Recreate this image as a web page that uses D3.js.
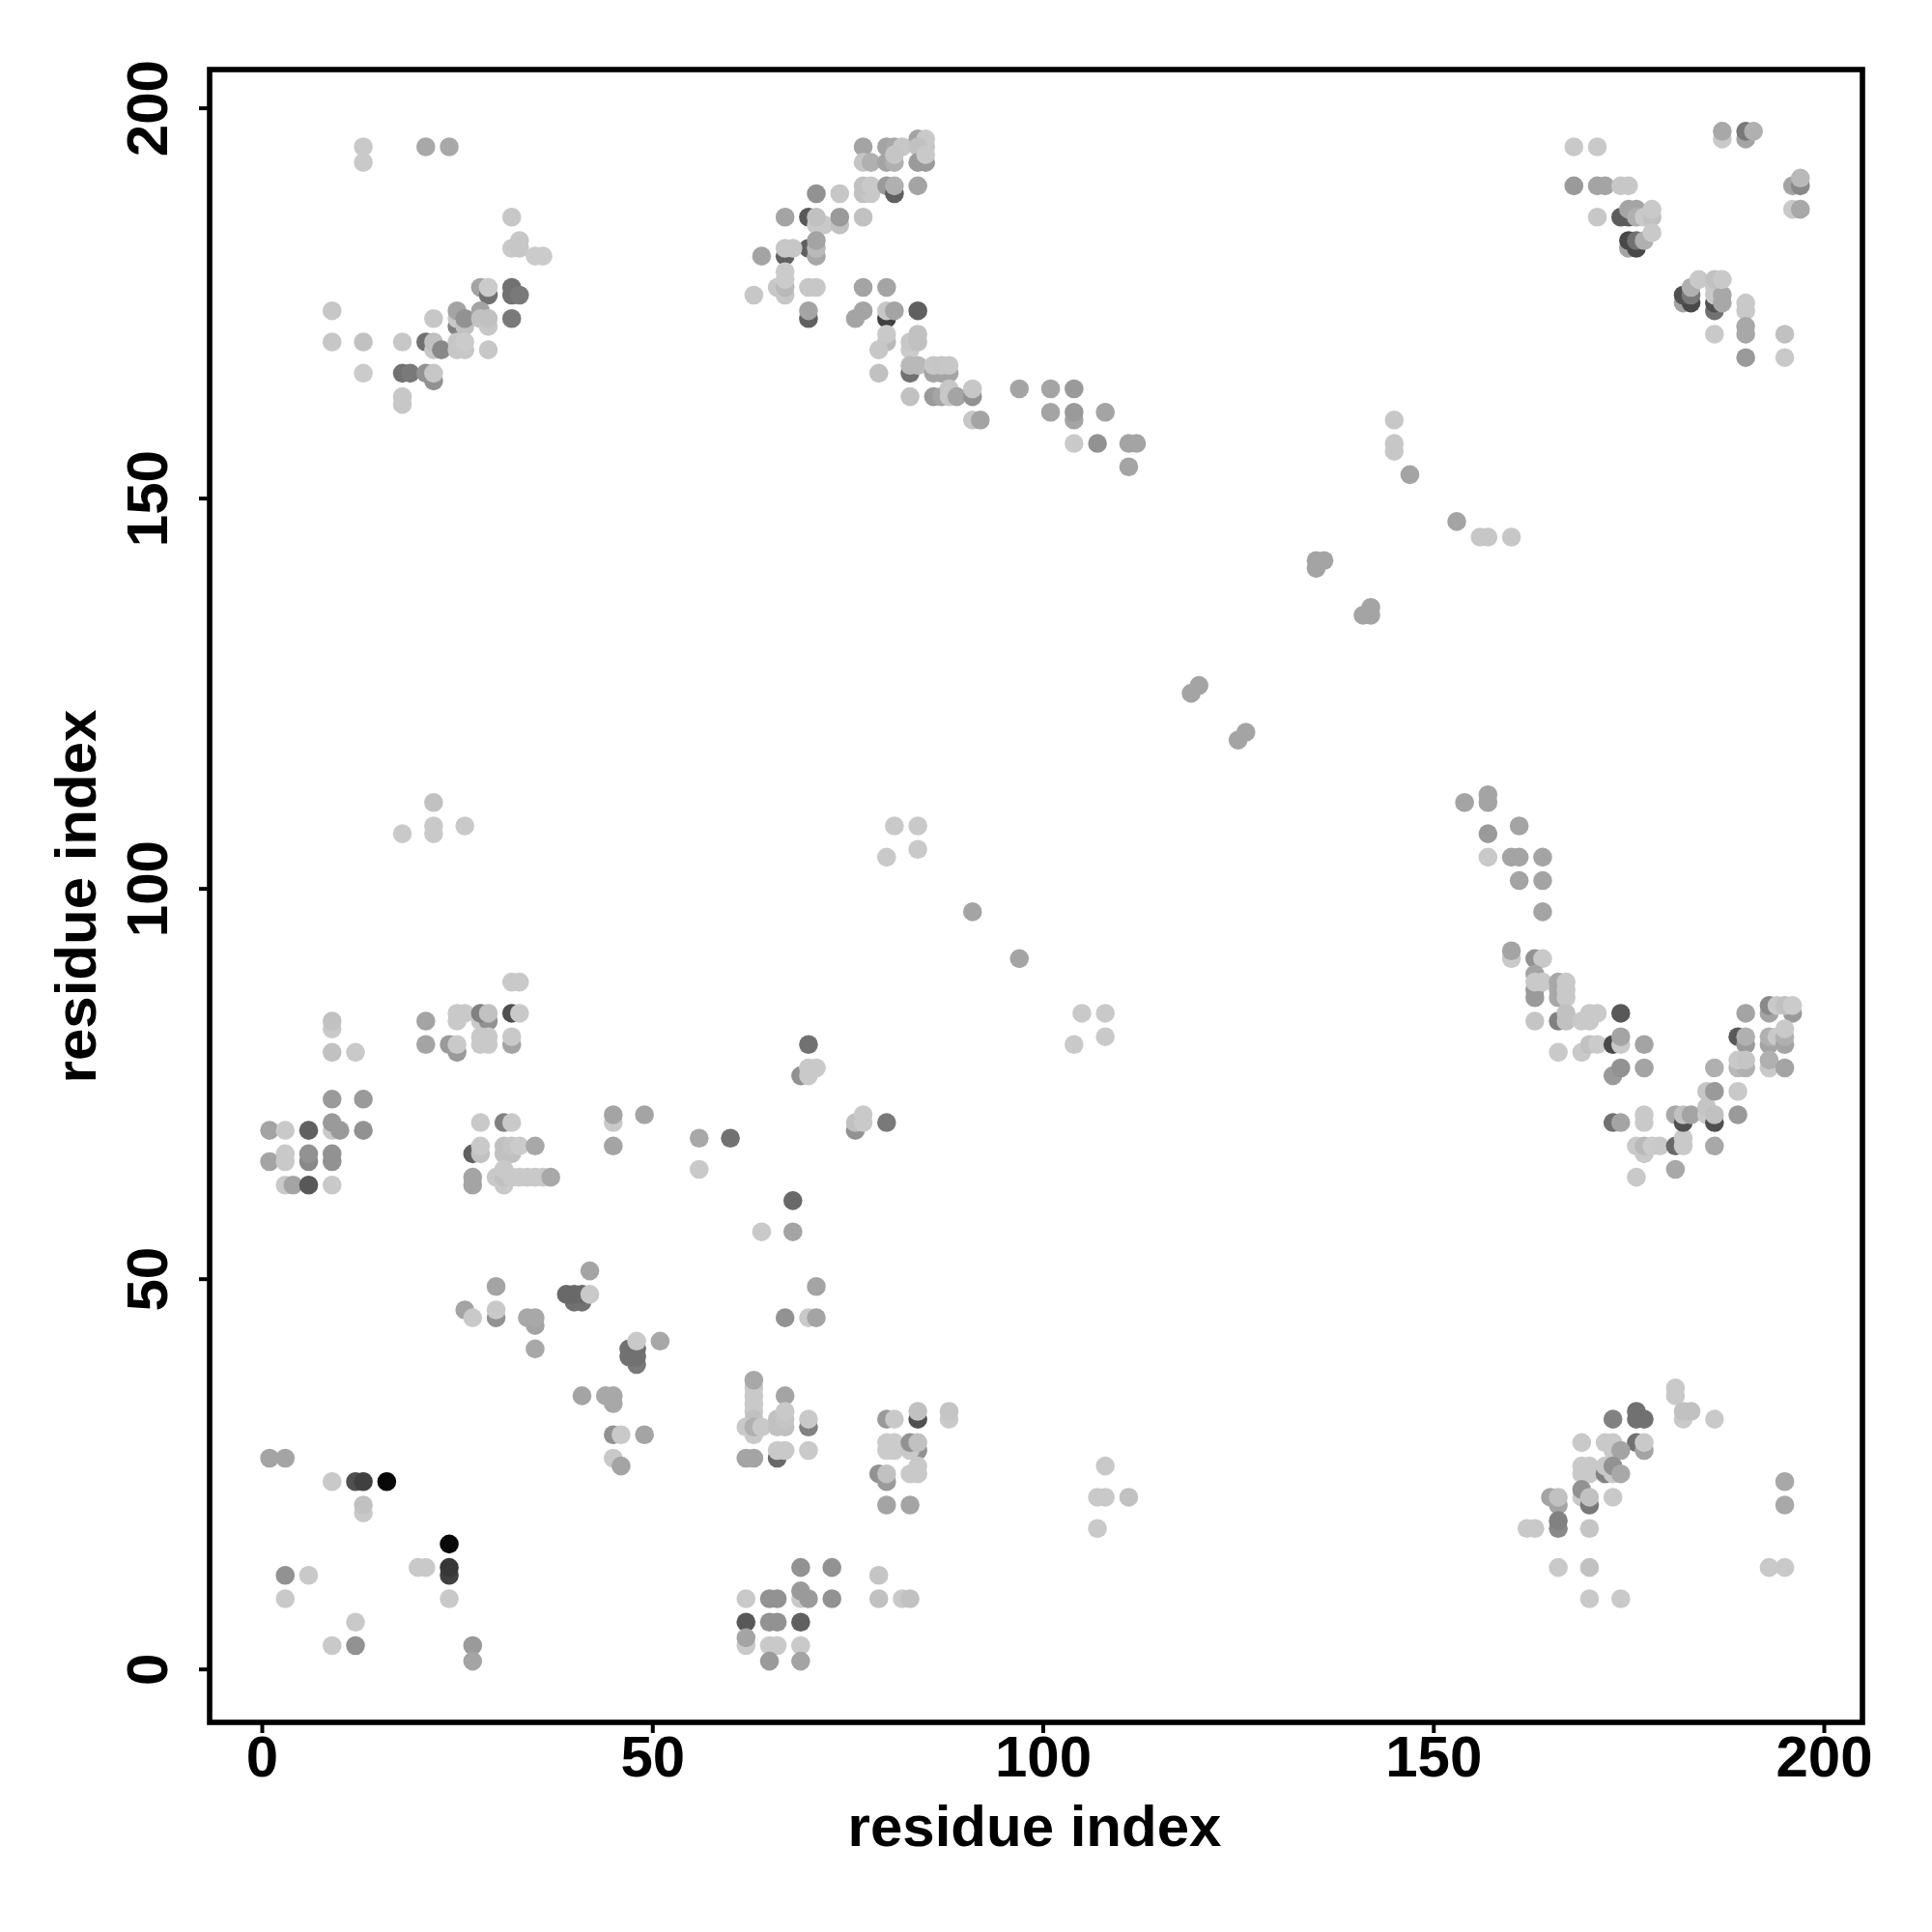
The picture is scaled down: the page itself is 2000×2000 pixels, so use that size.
<!DOCTYPE html>
<html><head><meta charset="utf-8">
<script src="https://cdn.jsdelivr.net/npm/d3@7/dist/d3.min.js"></script>
<style>html,body{margin:0;background:#fff}svg{display:block}text{font-family:"Liberation Sans",Arial,sans-serif;font-weight:bold;fill:#000}</style>
</head><body><svg id="c" width="2000" height="2000"></svg>
<script>
// each contact: [residue i, residue j, score 0..100]
const topLeft=[[13,195,2],[13,193,2],[21,195,18],[24,195,18],[32,186,3],[32,182,2],[33,183,3],[33,182,3],[35,181,1],[36,181,1],[28,177,20],[29,176,45],[29,177,1],[32,177,45],[32,176,45],[33,176,41],[25,172,37],[25,173,2],[25,174,20],[9,174,3],[22,173,3],[26,172,6],[26,173,29],[32,173,41],[28,174,20],[28,173,6],[29,172,3],[29,173,6],[9,170,3],[13,170,6],[18,170,3],[21,170,45],[22,169,3],[22,170,6],[23,169,33],[25,170,3],[25,169,3],[26,169,3],[26,170,1],[29,169,3],[13,166,1],[18,166,45],[19,166,41],[21,166,29],[22,165,29],[22,166,3],[18,163,3],[18,162,3]];
const topMiddle=[[84,196,20],[85,195,6],[85,196,2],[77,195,20],[80,195,20],[81,195,18],[82,195,3],[84,195,6],[77,193,4],[78,193,14],[80,193,20],[81,193,14],[81,194,4],[84,193,25],[85,193,25],[85,194,2],[77,189,6],[78,189,2],[77,190,6],[78,190,2],[80,190,25],[81,189,53],[81,190,14],[84,190,20],[71,189,29],[74,189,3],[67,186,20],[70,186,57],[71,185,2],[72,185,2],[71,186,6],[74,185,6],[74,186,25],[77,186,6],[70,182,53],[71,181,18],[71,182,10],[71,183,20],[67,181,53],[67,182,3],[68,182,3],[64,181,20],[67,176,3],[66,177,3],[67,177,10],[67,178,1],[67,179,1],[63,176,3],[70,177,3],[71,177,3],[77,177,20],[80,177,20],[70,173,53],[70,174,20],[76,173,20],[77,174,20],[80,173,69],[80,174,3],[81,174,20],[84,174,53],[80,170,10],[80,171,2],[79,169,3],[83,169,1],[83,170,3],[84,170,6],[84,171,6],[79,166,6],[83,166,45],[83,167,10],[84,167,10],[86,166,20],[87,166,20],[88,166,20],[86,167,3],[87,167,4],[88,167,3],[83,163,6],[86,163,25],[87,163,20],[88,163,3],[88,164,3],[89,163,20],[91,163,29],[91,164,3],[91,160,3],[92,160,20],[97,164,20],[101,164,20],[104,164,25],[101,161,20],[104,160,20],[104,161,25],[108,161,20],[104,157,2],[107,157,29],[111,157,20],[112,157,20],[111,154,20]];
const diagonal=[[145,160,3],[145,156,3],[145,157,3],[147,153,20],[153,147,20],[156,145,3],[157,145,3],[160,145,3],[135,141,20],[135,142,20],[136,142,20],[141,135,20],[142,135,20],[142,136,20],[119,125,20],[120,126,20],[125,119,20],[126,120,20],[91,97,20],[97,91,20]];
const topRight=[[168,195,2],[171,195,2],[168,190,25],[171,190,20],[172,190,20],[174,190,3],[175,190,3],[171,186,3],[174,186,55],[175,186,55],[175,187,20],[176,187,20],[176,186,14],[177,186,2],[178,186,6],[178,187,2],[175,182,20],[176,182,65],[175,183,65],[176,183,45],[177,183,14],[178,184,2],[187,196,2],[187,197,18],[190,196,20],[190,197,41],[191,197,14],[196,190,20],[197,190,33],[197,191,10],[196,187,2],[197,187,18],[182,175,20],[183,175,65],[182,176,61],[183,176,41],[183,177,14],[184,178,2],[186,174,45],[186,175,61],[186,176,2],[186,177,2],[187,175,18],[187,176,18],[186,178,6],[187,178,2],[190,174,2],[190,175,2],[190,171,18],[190,172,18],[186,171,2],[195,171,6],[190,168,25],[195,168,2]];
const midLeft=[[9,82,2],[9,83,6],[9,79,6],[12,79,2],[9,73,25],[13,73,25],[1,69,20],[3,69,2],[6,69,53],[9,69,2],[9,70,25],[10,69,25],[13,69,29],[1,65,20],[3,65,2],[3,66,2],[6,65,33],[6,66,29],[9,65,29],[9,66,29],[3,62,2],[4,62,20],[6,62,57],[9,62,2],[21,83,20],[21,80,20],[25,79,25],[24,80,25],[25,80,2],[25,83,2],[25,84,2],[26,84,2],[28,83,2],[29,83,29],[28,84,37],[29,84,6],[28,80,2],[29,80,2],[28,81,2],[29,81,2],[32,80,20],[32,81,2],[32,84,61],[33,84,2],[32,88,2],[33,88,2],[28,70,2],[31,70,37],[32,70,2],[27,66,53],[28,66,6],[28,67,2],[31,66,6],[32,66,6],[31,67,6],[32,67,4],[33,67,1],[35,67,18],[27,62,20],[27,63,20],[30,63,2],[31,62,2],[31,63,6],[31,64,2],[32,63,2],[33,63,2],[34,63,2],[35,63,2],[36,63,2],[37,63,18]];
const midCentre=[[45,70,2],[45,71,20],[49,71,20],[45,67,20],[56,68,18],[60,68,45],[56,64,2],[70,80,45],[69,76,29],[70,76,2],[70,77,2],[71,77,2],[76,69,29],[76,70,6],[77,70,2],[77,71,2],[80,70,41],[68,60,49],[64,56,2],[68,56,20],[42,51,20],[30,49,20],[40,47,45],[41,47,45],[39,48,49],[40,48,49],[41,48,49],[42,48,2],[26,46,20],[27,45,2],[30,45,29],[30,46,2],[34,45,18],[35,44,20],[35,45,18],[35,41,18],[51,42,18],[48,39,41],[47,40,45],[48,40,45],[47,41,45],[48,41,45],[48,42,2],[67,45,29],[70,45,2],[71,45,20],[71,49,20],[41,35,20],[45,34,18],[44,35,18],[45,35,18],[45,30,29],[46,30,2],[49,30,20],[45,27,2],[46,26,20],[104,80,2],[105,84,2],[108,84,2],[108,81,2],[22,111,6],[22,107,2],[22,108,2],[18,107,2],[26,108,2],[81,108,2],[84,108,2],[84,105,2],[80,104,2]];
const bottomLeft=[[1,27,20],[3,27,20],[9,24,2],[12,24,61],[13,24,69],[16,24,96],[13,20,2],[13,21,6],[3,12,29],[6,12,2],[3,9,2],[12,6,2],[9,3,2],[12,3,29],[20,13,2],[21,13,2],[24,16,96],[24,12,69],[24,13,73],[24,9,2],[27,3,25],[27,1,20]];
const bottomMiddle=[[63,36,2],[63,35,2],[63,34,2],[63,33,2],[63,32,6],[63,37,18],[63,30,2],[62,31,2],[63,31,14],[64,31,2],[67,35,20],[66,31,6],[67,31,6],[66,32,6],[67,32,4],[67,33,2],[70,31,37],[70,32,2],[62,27,20],[63,27,20],[66,27,49],[66,28,2],[67,28,2],[70,28,2],[80,32,25],[81,32,2],[84,32,61],[84,33,6],[88,32,2],[88,33,4],[80,28,1],[81,28,1],[80,29,1],[81,29,1],[84,28,29],[83,28,2],[83,29,29],[84,29,6],[79,25,29],[80,24,25],[80,25,6],[83,25,2],[84,25,2],[84,26,2],[80,21,20],[83,21,20],[69,13,29],[73,13,29],[69,9,2],[69,10,25],[70,9,25],[73,9,29],[62,9,2],[65,9,29],[66,9,29],[62,6,57],[65,6,29],[66,6,29],[69,6,53],[62,3,2],[62,4,20],[65,3,2],[66,3,2],[69,3,2],[65,1,25],[69,1,20],[79,12,4],[79,9,6],[82,9,2],[83,9,6],[107,22,2],[108,22,2],[108,26,2],[111,22,6],[107,18,2]];
const lowerRight=[[154,111,20],[157,111,20],[157,112,20],[161,108,20],[157,107,25],[157,104,2],[160,104,20],[161,104,20],[164,104,20],[161,101,20],[164,101,20],[164,97,20],[160,91,2],[160,92,20],[163,91,29],[164,91,2],[163,86,25],[163,87,25],[163,89,20],[163,88,2],[164,88,2],[166,86,18],[166,87,18],[166,88,18],[167,86,2],[167,87,2],[167,88,2],[163,83,4],[166,83,37],[167,83,6],[167,84,6],[169,83,2],[170,83,2],[170,84,2],[171,84,2],[174,84,57],[166,79,2],[169,79,2],[170,80,6],[171,80,1],[173,80,65],[174,80,2],[174,81,20],[177,80,20],[173,76,25],[174,77,29],[177,77,20],[173,70,45],[174,70,20],[177,70,2],[177,71,2],[176,67,2],[177,66,2],[177,67,10],[178,67,1],[179,67,2],[176,63,2],[181,67,49],[182,67,2],[182,68,2],[181,64,18],[181,71,18],[182,70,61],[182,71,6],[183,71,20],[185,71,2],[185,72,4],[186,70,61],[186,71,6],[185,74,4],[186,74,25],[186,77,14],[186,67,18],[189,74,2],[189,71,25],[189,81,57],[190,80,25],[190,81,14],[190,84,20],[189,77,10],[190,77,14],[189,78,2],[190,78,4],[193,84,20],[193,85,33],[194,85,2],[196,84,25],[195,85,6],[196,85,1],[193,80,20],[193,81,14],[194,81,2],[195,80,20],[195,81,14],[195,82,2],[193,77,2],[193,78,14],[195,77,20]];
const bottomRight=[[181,35,2],[181,36,2],[182,32,2],[182,33,6],[183,33,6],[186,32,2],[173,32,37],[176,32,45],[176,33,45],[177,32,45],[169,29,2],[172,29,2],[176,29,45],[177,28,20],[177,29,2],[173,29,2],[173,28,2],[174,28,20],[169,25,2],[170,25,2],[169,26,2],[170,26,2],[172,25,37],[172,26,2],[173,25,2],[173,26,29],[174,25,18],[169,22,2],[169,23,29],[170,21,41],[170,22,6],[173,22,2],[165,22,20],[166,21,20],[166,22,6],[166,18,33],[166,19,37],[162,18,2],[163,18,2],[170,18,4],[166,13,2],[170,13,6],[170,9,2],[174,9,2],[193,13,2],[195,13,2],[195,24,18],[195,21,18]];
const axisTicks=[0,50,100,150,200];
const xTitle="residue index", yTitle="residue index";

const contacts=[].concat(topLeft,topMiddle,diagonal,topRight,midLeft,midCentre,bottomLeft,bottomMiddle,lowerRight,bottomRight);
const svg=d3.select("#c");
const x=d3.scaleLinear().domain([0,200]).range([271,1888]);
const y=d3.scaleLinear().domain([0,200]).range([1727.7,111.6]);
const shade=d3.scaleLinear().domain([0,100]).range(["#cdcdcd","#000000"]);
const frame={l:217,r:1928,t:72,b:1783};

svg.append("g").selectAll("circle").data(contacts).join("circle")
  .attr("cx",d=>x(d[0])).attr("cy",d=>y(d[1])).attr("r",9.8).attr("fill",d=>shade(d[2]));

svg.append("rect").attr("x",frame.l).attr("y",frame.t).attr("width",frame.r-frame.l).attr("height",frame.b-frame.t)
  .attr("fill","none").attr("stroke","#000").attr("stroke-width",5.6);

const gx=svg.append("g").attr("transform",`translate(0,${frame.b})`).call(d3.axisBottom(x).tickValues(axisTicks).tickSize(11).tickPadding(4));
const gy=svg.append("g").attr("transform",`translate(${frame.l},0)`).call(d3.axisLeft(y).tickValues(axisTicks).tickSize(11));
[gx,gy].forEach(g=>{g.select(".domain").remove();g.selectAll("line").attr("stroke","#000").attr("stroke-width",4);});
gx.selectAll("text").attr("font-size",60).attr("dy",null).attr("text-anchor","middle").attr("y",56);
gy.selectAll("text").attr("font-size",60).attr("dy",null).attr("text-anchor","middle").attr("x",0).attr("y",0).attr("transform","translate(-44,0) rotate(-90)");
svg.append("text").attr("x",1071).attr("y",1911).attr("text-anchor","middle").attr("font-size",60).text(xTitle);
svg.append("text").attr("transform","translate(99,928) rotate(-90)").attr("text-anchor","middle").attr("font-size",60).text(yTitle);
</script></body></html>
